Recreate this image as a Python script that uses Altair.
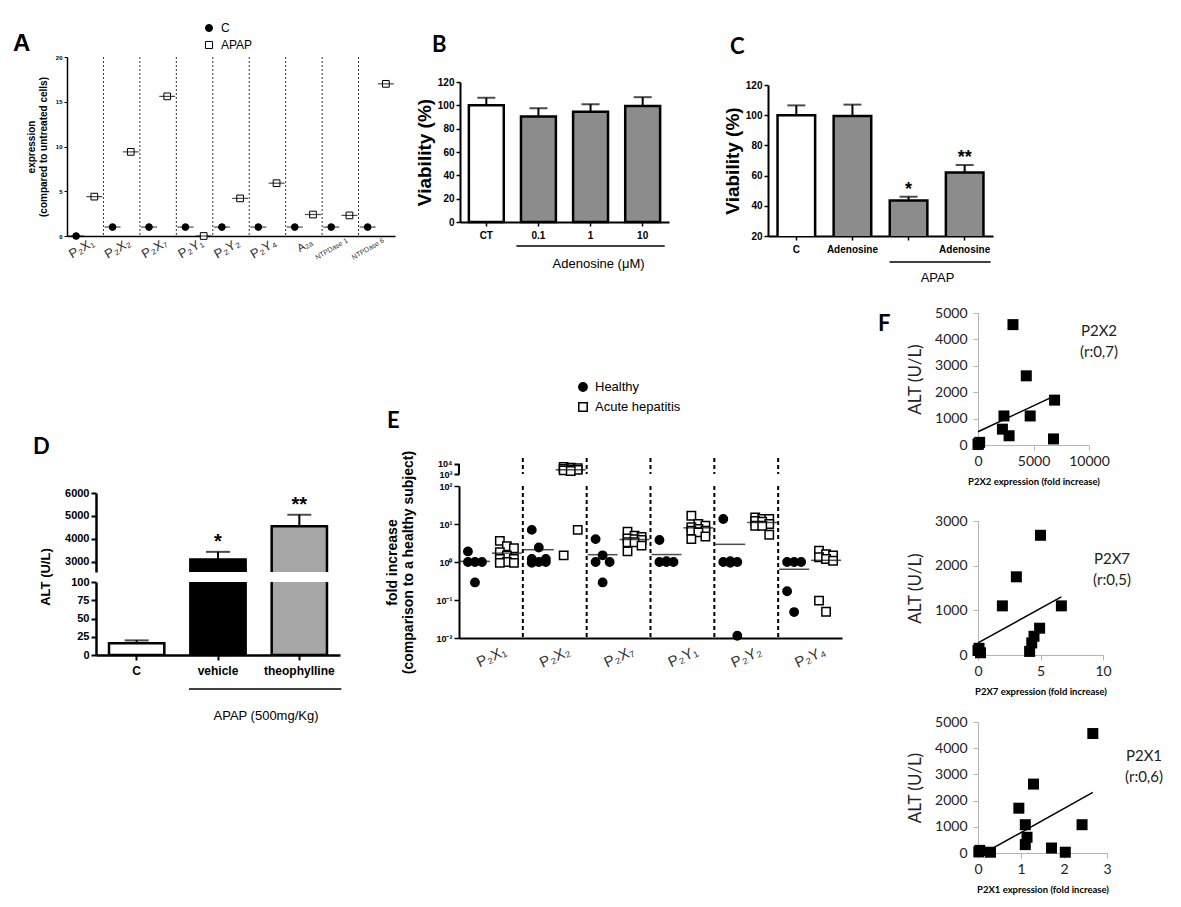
import altair as alt
import pandas as pd

FONT = "Liberation Sans"
FONT2 = "Lato"
GRAY = "#8c8c8c"

# ---------------- data ----------------
# Panel A
a_genes = ["P₂X₁", "P₂X₂", "P₂X₇", "P₂Y₁", "P₂Y₂", "P₂Y₄", "A₂ₐ", "NTPDase 1", "NTPDase 6"]
a_groups = ["C", "APAP"]
a_c = [0, 1, 1, 1, 1, 1, 1, 1, 1]
a_apap = [4.4, 9.4, 15.6, 0, 4.2, 5.9, 2.4, 2.3, 17.0]

# Panel B
b_cats = ["CT", "0.1", "1", "10"]
b_vals = [100, 90.5, 94.5, 99.5]
b_err = [6.5, 7.0, 6.5, 7.5]
b_group_label = "Adenosine (μM)"

# Panel C
c_cats = ["C", "Adenosine", "APAP", "APAP+Adenosine"]
c_vals = [100, 99.5, 43.5, 62]
c_err = [6.5, 7.5, 2.5, 5.0]
c_stars = ["", "", "*", "**"]
c_group_label = "APAP"

# Panel D
d_cats = ["C", "vehicle", "theophylline"]
d_vals = [16, 3100, 4550]
d_err = [4, 330, 500]
d_stars = ["", "*", "**"]
d_group_label = "APAP (500mg/Kg)"

# Panel E
e_genes = ["P₂X₁", "P₂X₂", "P₂X₇", "P₂Y₁", "P₂Y₂", "P₂Y₄"]
e_types = ["Healthy", "Acute hepatitis"]
e_healthy = [
    [1.9, 1.0, 1.0, 1.0, 0.29],
    [7.0, 2.4, 1.2, 1.2, 1.0, 1.0, 0.95],
    [4.0, 1.5, 1.0, 1.0, 0.29],
    [3.8, 1.05, 1.0, 1.0, 1.0],
    [13.5, 1.05, 1.0, 0.95, 1.0, 0.0115],
    [1.0, 1.0, 1.0, 0.17, 0.048],
]
e_acute = [
    [3.6, 2.6, 2.3, 1.8, 1.5, 1.2, 1.2, 1.0, 0.95, 0.95],
    [5200, 4300, 3800, 3300, 2900, 2600, 2300, 2000, 7.0, 1.5],
    [6.3, 4.9, 4.6, 4.2, 4.0, 3.8, 3.3, 3.3, 2.7, 1.9],
    [16.5, 10.0, 9.0, 8.2, 7.4, 6.7, 6.7, 6.0, 4.7, 4.0],
    [15.0, 13.5, 13.5, 12.0, 11.5, 10.0, 9.0, 9.0, 5.2],
    [2.0, 1.6, 1.5, 1.33, 1.2, 1.08, 0.096, 0.049],
]
e_top_ticks = [1000, 10000]

# Panel F
f1_x = [3150, 4350, 6900, 2340, 4700, 2200, 2800, 6800, 150, 50, 0]
f1_y = [4560, 2620, 1700, 1100, 1100, 600, 350, 230, 100, 50, 20]
f1_trend_x = [0, 7000]
f1_trend_y = [500, 1880]
f2_x = [5.0, 3.07, 1.95, 6.67, 4.93, 4.48, 4.3, 4.13, 0.08, 0.2, 0.0]
f2_y = [2680, 1750, 1100, 1100, 600, 420, 270, 80, 150, 50, 100]
f2_trend_x = [0, 6.67]
f2_trend_y = [270, 1300]
f3_x = [2.67, 1.29, 0.95, 1.10, 1.14, 1.10, 1.71, 2.03, 2.42, 0.29, 0.02, 0.04]
f3_y = [4560, 2630, 1710, 1080, 600, 320, 190, 30, 1080, 30, 40, 100]
f3_trend_x = [0.19, 2.67]
f3_trend_y = [40, 2316]


# ---------------- helpers ----------------
one = pd.DataFrame({"v": [0]})


def spacer(w, h):
    return alt.Chart(one).mark_point(opacity=0).encode(
        x=alt.value(0), y=alt.value(0)).properties(width=w, height=h)


def vcat(*charts, spacing=0):
    return alt.vconcat(*charts, spacing=spacing, bounds="flush")


def hcat(*charts, spacing=0):
    return alt.hconcat(*charts, spacing=spacing, bounds="flush")


def note(text, x, y, size=13, weight="normal", font=FONT, align="center", baseline="middle",
         angle=0, color="black"):
    return alt.Chart(one).mark_text(font=font, fontSize=size, fontWeight=weight, align=align,
                                    baseline=baseline, angle=angle, color=color).encode(
        x=alt.value(x), y=alt.value(y), text=alt.value(text))


def letter(t, x, y, font=FONT2, size=22):
    return note(t, x, y, size=size, weight="bold", font=font, align="left", baseline="alphabetic")


def manual_legend(labels, x0, y0, step, shapes, fills, size, stroke_w, fsize):
    dfl = pd.DataFrame({"label": labels, "i": list(range(len(labels))), "shp": shapes, "fc": fills})
    base = alt.Chart(dfl).transform_calculate(ly=f"{y0} + datum.i * {step}")
    sym = base.mark_point(filled=True, stroke="black", strokeWidth=stroke_w, size=size, opacity=1).encode(
        x=alt.value(x0), y=alt.Y("ly:Q", scale=None), shape=alt.Shape("shp:N", scale=None),
        fill=alt.Fill("fc:N", scale=None))
    txt = base.mark_text(font=FONT, fontSize=fsize, align="left", baseline="middle", dx=12).encode(
        x=alt.value(x0), y=alt.Y("ly:Q", scale=None), text="label:N")
    return [sym, txt]


# ---------------- Panel A ----------------
A_W, A_H = 328, 179
dfA = pd.DataFrame({
    "gidx": list(range(len(a_genes))) * 2,
    "group": [a_groups[0]] * len(a_c) + [a_groups[1]] * len(a_apap),
    "value": a_c + a_apap,
})
dfAsep = pd.DataFrame({"pos": list(range(1, len(a_genes)))})
dfAlab = pd.DataFrame({"gidx": list(range(len(a_genes))), "label": a_genes})

xA = alt.X("pos:Q", scale=alt.Scale(domain=[0, len(a_genes)], nice=False, zero=False),
           axis=alt.Axis(values=[i + 0.5 for i in range(len(a_genes))], labels=False,
                         ticks=False, domainWidth=1.5, title=None, grid=False))
yA = alt.Y("value:Q", scale=alt.Scale(domain=[0, 20], nice=False),
           axis=alt.Axis(values=[0, 5, 10, 15, 20], title=["expression", "(compared to untreated cells)"],
                         titleFontSize=10, titleFontWeight="bold", labelFontSize=6, labelFontWeight="bold",
                         tickSize=3, domainWidth=1.5, titlePadding=7, labelPadding=2, grid=False))
baseA = alt.Chart(dfA).transform_calculate(
    pos="datum.gidx + (datum.group == 'C' ? 0.25 : 0.75)",
    shp="datum.group == 'C' ? 'circle' : 'square'",
    fc="datum.group == 'C' ? 'black' : 'white'")
sepA = alt.Chart(dfAsep).mark_rule(color="#333", strokeDash=[2, 2], strokeWidth=1).encode(x=xA)
ptsA = baseA.mark_point(filled=True, stroke="black", strokeWidth=1, size=45, opacity=1).encode(
    x=xA, y=yA, shape=alt.Shape("shp:N", scale=None), fill=alt.Fill("fc:N", scale=None))
meanA = baseA.mark_tick(orient="horizontal", color="black", thickness=1.2, size=16).encode(x=xA, y=yA)
labA = alt.Chart(dfAlab).transform_calculate(
    pos="datum.gidx + 0.5", fs="datum.gidx > 6 ? 7 : (datum.gidx == 6 ? 11 : 13)").mark_text(
    angle=330, align="right", baseline="top", font=FONT, color="#333", dy=3, dx=4).encode(
    x=xA, y=alt.value(A_H), text="label:N", size=alt.Size("fs:Q", scale=None))
legA = manual_legend(a_groups, 142, -29, 17, ["circle", "square"], ["black", "white"], 50, 1, 12)
chartA = alt.layer(sepA, ptsA, meanA, labA, *legA, letter("A", -54, -6, font=FONT, size=24)).properties(
    width=A_W, height=A_H)


def bar_axis_y(values, title, tsize=19, tpad=3, lsize=10):
    return alt.Axis(values=values, title=title, titleFontSize=tsize, titleFontWeight="bold",
                    titlePadding=tpad, labelFontSize=lsize, labelFontWeight="bold", tickSize=4,
                    tickWidth=1.5, domainWidth=2, grid=False)


# ---------------- Panel B ----------------
B_W, B_H = 209, 140
dfB = pd.DataFrame({"cat": b_cats, "value": b_vals, "err": b_err})
xB = alt.X("cat:N", scale=alt.Scale(domain=b_cats, paddingInner=0.33, paddingOuter=0.17),
           axis=alt.Axis(title=None, labelAngle=0, labelFontSize=10, labelFontWeight="bold", tickSize=4,
                         tickWidth=1.5, domainWidth=2, labelPadding=4))


def yB(field):
    return alt.Y(f"{field}:Q", scale=alt.Scale(domain=[0, 120], nice=False),
                 axis=bar_axis_y(list(range(0, 121, 20)), "Viability (%)"))


baseB = alt.Chart(dfB).transform_calculate(
    top="datum.value + datum.err", fc=f"datum.cat == '{b_cats[0]}' ? 'white' : '{GRAY}'")
barsB = baseB.mark_bar(stroke="black", strokeWidth=2.5).encode(
    x=xB, y=yB("value"), fill=alt.Fill("fc:N", scale=None))
errB = baseB.mark_rule(color="black", strokeWidth=2).encode(x=xB, y=yB("value"), y2="top:Q")
capB = baseB.mark_tick(color="black", thickness=2, size=18).encode(x=xB, y=yB("top"))
brB = alt.Chart(one).mark_rule(color="black", strokeWidth=1.5, xOffset=-22, x2Offset=22).encode(
    x=alt.datum(b_cats[1]), x2=alt.datum(b_cats[-1]), y=alt.value(B_H + 24))
txB = alt.Chart(one).mark_text(font=FONT, fontSize=13, dx=8, baseline="middle").encode(
    x=alt.datum(b_cats[2]), y=alt.value(B_H + 42), text=alt.value(b_group_label))
chartB = alt.layer(barsB, errB, capB, brB, txB, letter("B", -28, -30)).properties(width=B_W, height=B_H)

# ---------------- Panel C ----------------
C_W, C_H = 225, 151
dfC = pd.DataFrame({"cat": c_cats, "value": c_vals, "err": c_err, "star": c_stars})
xC = alt.X("cat:N", scale=alt.Scale(domain=c_cats, paddingInner=0.33, paddingOuter=0.17),
           axis=alt.Axis(title=None, labelAngle=0, labelFontSize=10, labelFontWeight="bold", tickSize=4,
                         tickWidth=1.5, domainWidth=2, labelPadding=4,
                         labelExpr="datum.value == 'APAP' ? '' : (datum.value == 'APAP+Adenosine' ? 'Adenosine' : datum.value)"))


def yC(field):
    return alt.Y(f"{field}:Q", scale=alt.Scale(domain=[20, 120], nice=False, zero=False),
                 axis=bar_axis_y(list(range(20, 121, 20)), "Viability (%)"))


baseC = alt.Chart(dfC).transform_calculate(
    top="datum.value + datum.err", fc=f"datum.cat == '{c_cats[0]}' ? 'white' : '{GRAY}'")
barsC = baseC.mark_bar(stroke="black", strokeWidth=2.5, clip=True).encode(
    x=xC, y=yC("value"), fill=alt.Fill("fc:N", scale=None))
errC = baseC.mark_rule(color="black", strokeWidth=2).encode(x=xC, y=yC("value"), y2="top:Q")
capC = baseC.mark_tick(color="black", thickness=2, size=18).encode(x=xC, y=yC("top"))
starC = baseC.mark_text(font=FONT, fontSize=18, fontWeight="bold", baseline="bottom", dy=2).encode(
    x=xC, y=yC("top"), text="star:N")
brC = alt.Chart(one).mark_rule(color="black", strokeWidth=1.5, xOffset=-19, x2Offset=26).encode(
    x=alt.datum(c_cats[2]), x2=alt.datum(c_cats[3]), y=alt.value(C_H + 26))
txC = alt.Chart(one).mark_text(font=FONT, fontSize=13, dx=29, baseline="middle").encode(
    x=alt.datum(c_cats[2]), y=alt.value(C_H + 42), text=alt.value(c_group_label))
chartC = alt.layer(barsC, errC, capC, starC, brC, txC, letter("C", -38, -31)).properties(
    width=C_W, height=C_H)

# ---------------- Panel D ----------------
D_W, DT_H, DB_H = 244, 79, 73
dfD = pd.DataFrame({"cat": d_cats, "value": d_vals, "err": d_err, "star": d_stars})
d_scale_x = alt.Scale(domain=d_cats, paddingInner=0.32, paddingOuter=0.16)
xDt = alt.X("cat:N", scale=d_scale_x, axis=None)
xDb = alt.X("cat:N", scale=d_scale_x,
            axis=alt.Axis(title=None, labelAngle=0, labelFontSize=12, labelFontWeight="bold", tickSize=5,
                          tickWidth=2, domainWidth=2.5, labelPadding=5))


def yDt(field):
    return alt.Y(f"{field}:Q", scale=alt.Scale(domain=[2550, 6000], nice=False, zero=False),
                 axis=alt.Axis(values=[3000, 4000, 5000, 6000], format="d", title=None, labelFontSize=11,
                               labelFontWeight="bold", tickSize=5, tickWidth=2, domainWidth=2.5, grid=False))


def yDb(field):
    return alt.Y(f"{field}:Q", scale=alt.Scale(domain=[0, 100], nice=False),
                 axis=alt.Axis(values=[0, 25, 50, 75, 100], format="d", title=None, labelFontSize=11,
                               labelFontWeight="bold", tickSize=5, tickWidth=2, domainWidth=2.5, grid=False))


baseD = alt.Chart(dfD).transform_calculate(
    top="datum.value + datum.err",
    fc=f"datum.cat == '{d_cats[0]}' ? 'white' : (datum.cat == '{d_cats[1]}' ? 'black' : '#a6a6a6')")


def d_layers(xenc, yfun):
    return [
        baseD.mark_bar(stroke="black", strokeWidth=2.5, clip=True).encode(
            x=xenc, y=yfun("value"), fill=alt.Fill("fc:N", scale=None)),
        baseD.mark_rule(color="black", strokeWidth=2, clip=True).encode(x=xenc, y=yfun("value"), y2="top:Q"),
        baseD.mark_tick(color="black", thickness=2, size=24, clip=True).encode(x=xenc, y=yfun("top")),
    ]


starD = baseD.transform_filter("datum.star != ''").mark_text(
    font=FONT, fontSize=20, fontWeight="bold", baseline="bottom", dy=0).encode(x=xDt, y=yDt("top"), text="star:N")
chartDt = alt.layer(*d_layers(xDt, yDt), starD,
                    note("ALT (U/L)", -50, DT_H + 5, size=13, weight="bold", angle=270),
                    letter("D", -63, -39)).properties(width=D_W, height=DT_H)
brD = alt.Chart(one).mark_rule(color="black", strokeWidth=1.5, xOffset=-29, x2Offset=42).encode(
    x=alt.datum(d_cats[1]), x2=alt.datum(d_cats[2]), y=alt.value(DB_H + 34))
txD = alt.Chart(one).mark_text(font=FONT, fontSize=13, dx=48, baseline="middle").encode(
    x=alt.datum(d_cats[1]), y=alt.value(DB_H + 61), text=alt.value(d_group_label))
chartDb = alt.layer(*d_layers(xDb, yDb), brD, txD).properties(width=D_W, height=DB_H)

# ---------------- Panel E ----------------
E_W, ET_H, EM_H = 383, 16, 152
rows = []
for t, series in zip(e_types, [e_healthy, e_acute]):
    for gi, vals in enumerate(series):
        for rank, v in enumerate(sorted(vals, reverse=True)):
            rows.append({"gidx": gi, "type": t, "value": v, "rn": rank})
dfE = pd.DataFrame(rows)
dfEsep = pd.DataFrame({"pos": list(range(1, len(e_genes)))})
dfElab = pd.DataFrame({"gidx": list(range(len(e_genes))), "label": e_genes})
dfEbr = pd.DataFrame({"lo": [e_top_ticks[0]], "hi": [e_top_ticks[1]]})

e_xscale = alt.Scale(domain=[0, len(e_genes)], nice=False, zero=False)
xE = alt.X("pos:Q", scale=e_xscale,
           axis=alt.Axis(values=[i + 0.5 for i in range(len(e_genes))], labels=False, ticks=False,
                         domainWidth=2, title=None, grid=False))
xEt = alt.X("pos:Q", scale=e_xscale, axis=None)


def yEm(field):
    return alt.Y(f"{field}:Q", scale=alt.Scale(type="log", domain=[0.01, 100], nice=False),
                 axis=alt.Axis(values=[0.01, 0.1, 1, 10, 100],
                               labelExpr="datum.value < 0.05 ? '10⁻²' : (datum.value < 0.5 ? '10⁻¹' : (datum.value < 5 ? '10⁰' : (datum.value < 50 ? '10¹' : '10²')))",
                               labelFontSize=9, labelFontWeight="bold", tickSize=5, tickWidth=1.5,
                               domainWidth=2, title=["fold increase", "(comparison to a healthy subject)"],
                               titleFontSize=14, titleFontWeight="bold", titlePadding=20, labelOverlap=False,
                               grid=False))


def yEt(field):
    return alt.Y(f"{field}:Q", scale=alt.Scale(type="log", domain=[1000, 39810], nice=False),
                 axis=alt.Axis(values=e_top_ticks, labelExpr="datum.value < 5000 ? '10³' : '10⁴'",
                               labelFontSize=9, labelFontWeight="bold", tickSize=5, tickWidth=2, domain=False,
                               title=None, labelOverlap=False, grid=False, labelPadding=2))


baseE = alt.Chart(dfE).transform_calculate(
    pos="datum.gidx + (datum.type == 'Healthy' ? 0.25 : 0.75) + (datum.rn % 3 - 1) * 0.11",
    shp="datum.type == 'Healthy' ? 'circle' : 'square'",
    fc="datum.type == 'Healthy' ? 'black' : 'white'")
meanEbase = alt.Chart(dfE).transform_aggregate(mval="mean(value)", groupby=["gidx", "type"]).transform_calculate(
    pos="datum.gidx + (datum.type == 'Healthy' ? 0.25 : 0.75)")

sepE = alt.Chart(dfEsep).mark_rule(color="black", strokeDash=[4, 3], strokeWidth=2)


def e_points(base, xenc, yenc):
    return base.mark_point(filled=True, stroke="black", strokeWidth=1.5, size=70, opacity=1).encode(
        x=xenc, y=yenc, shape=alt.Shape("shp:N", scale=None), fill=alt.Fill("fc:N", scale=None))


ptsEm = e_points(baseE.transform_filter("datum.value < 1000"), xE, yEm("value"))
meanEm = meanEbase.transform_filter("datum.mval < 1000").mark_tick(
    orient="horizontal", color="black", thickness=1.5, size=30).encode(x=xE, y=yEm("mval"))
labE = alt.Chart(dfElab).transform_calculate(pos="datum.gidx + 0.5").mark_text(
    angle=335, align="right", baseline="top", font=FONT, fontSize=15, color="#333", dy=10, dx=8).encode(
    x=xE, y=alt.value(EM_H), text="label:N")
legE = manual_legend(e_types, 124, -99, 20, ["circle", "square"], ["black", "white"], 70, 1.5, 13)
chartEm = alt.layer(sepE.encode(x=xE), ptsEm, meanEm, labE, *legE).properties(width=E_W, height=EM_H)

ptsEt = e_points(baseE.transform_filter("datum.value >= 1000"), xEt, yEt("value"))
meanEt = meanEbase.transform_filter("datum.mval >= 1000").mark_tick(
    orient="horizontal", color="black", thickness=1.5, size=30).encode(x=xEt, y=yEt("mval"))
bracketE = alt.Chart(dfEbr).mark_rule(color="black", strokeWidth=2).encode(
    x=alt.value(0), y=yEt("lo"), y2="hi:Q")
chartEt = alt.layer(sepE.encode(x=xEt), bracketE, ptsEt, meanEt, letter("E", -72, -30)).properties(
    width=E_W, height=ET_H)


# ---------------- Panel F ----------------
def scatterF(xs, ys, tx, ty, xdom, xvals, xtitle, ydom, yvals, ann, ax, ay, W, H, extra=None):
    df = pd.DataFrame({"x": xs, "y": ys})
    dft = pd.DataFrame({"x": tx, "y": ty})
    xenc = alt.X("x:Q", scale=alt.Scale(domain=xdom, nice=False, zero=False),
                 axis=alt.Axis(values=xvals, format="d", title=xtitle, titleFont=FONT2, titleFontSize=9.5,
                               titleFontWeight="bold", titlePadding=8, labelFont=FONT2, labelFontSize=14,
                               labelColor="#222", domainColor="#b5b5b5", tickColor="#b5b5b5", tickSize=5,
                               labelPadding=4, grid=False, labelFlush=False))
    yenc = alt.Y("y:Q", scale=alt.Scale(domain=ydom, nice=False),
                 axis=alt.Axis(values=yvals, format="d", title="ALT (U/L)", titleFont=FONT2, titleFontSize=17,
                               titleFontWeight="normal", titleColor="#222", titlePadding=10, labelFont=FONT2,
                               labelFontSize=14, labelColor="#222", domainColor="#b5b5b5", tickColor="#b5b5b5",
                               tickSize=5, labelPadding=6, grid=False, labelFlush=False))
    pts = alt.Chart(df).mark_square(size=121, color="black", opacity=1).encode(x=xenc, y=yenc)
    trend = alt.Chart(dft).mark_line(color="black", strokeWidth=1.5).encode(x=xenc, y=yenc)
    t1 = note(ann[0], ax, ay - 10, size=15, font=FONT2, color="#222")
    t2 = note(ann[1], ax, ay + 11, size=15, font=FONT2, color="#222")
    layers = [pts, trend, t1, t2] + ([extra] if extra is not None else [])
    return alt.layer(*layers).properties(width=W, height=H)


chartF1 = scatterF(f1_x, f1_y, f1_trend_x, f1_trend_y, [0, 10000], [0, 5000, 10000],
                   "P2X2 expression (fold increase)", [0, 5000], [0, 1000, 2000, 3000, 4000, 5000],
                   ["P2X2", "(r:0,7)"], 121, 28, 111, 132, extra=letter("F", -100, 18))
chartF2 = scatterF(f2_x, f2_y, f2_trend_x, f2_trend_y, [0, 10], [0, 5, 10],
                   "P2X7 expression (fold increase)", [0, 3000], [0, 1000, 2000, 3000],
                   ["P2X7", "(r:0,5)"], 134, 48, 125, 134)
chartF3 = scatterF(f3_x, f3_y, f3_trend_x, f3_trend_y, [0, 3], [0, 1, 2, 3],
                   "P2X1 expression (fold increase)", [0, 5000], [0, 1000, 2000, 3000, 4000, 5000],
                   ["P2X1", "(r:0,6)"], 166, 44, 129, 131)

# ---------------- layout (flush: nested concat groups count as zero size) ----------------
colB = vcat(spacer(B_W, 15), chartB, spacing=10)
colC = vcat(spacer(C_W, 18), chartC, spacing=10)
top = hcat(chartA, hcat(colB, colC, spacing=308), spacing=65)

colD = vcat(spacer(D_W, 170), vcat(chartDt, chartDb, spacing=10), spacing=10)
colE = vcat(spacer(E_W, 135), vcat(chartEt, chartEm, spacing=12), spacing=10)
colF = vcat(chartF1, vcat(chartF2, chartF3, spacing=67), spacing=76)
bottom = hcat(spacer(9, 1), hcat(colD, hcat(colE, colF, spacing=519), spacing=363), spacing=20)

chart = vcat(top, bottom, spacing=256).properties(
    padding={"left": 5, "top": 14, "right": 5, "bottom": 5}
).configure_view(stroke=None).configure_axis(
    grid=False, domainColor="black", tickColor="black", labelColor="black", titleColor="black",
    labelFont=FONT, titleFont=FONT
)

chart.save("out.html", embed_options={"renderer": "svg", "actions": False})
